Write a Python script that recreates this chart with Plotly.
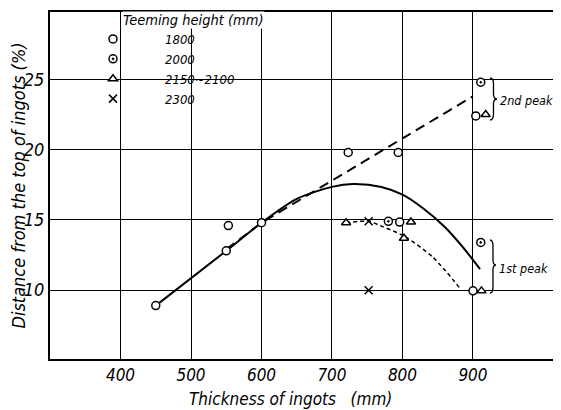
import plotly.graph_objects as go

# ---------------- data ----------------
x_1800 = [450, 550, 553, 600, 723, 794, 796, 900, 904]
y_1800 = [8.9, 12.8, 14.6, 14.8, 19.8, 19.8, 14.85, 9.95, 22.4]
x_2000 = [780, 911, 911]
y_2000 = [14.9, 13.4, 24.8]
x_2150 = [720, 802, 812, 912, 918]
y_2150 = [14.8, 13.7, 14.85, 9.95, 22.5]
x_2300 = [752, 752]
y_2300 = [14.9, 10.0]

# fitted curves
solid_x = [450, 550, 600, 650, 700, 730, 770, 800, 830, 860, 885, 910]
solid_y = [8.9, 12.8, 14.8, 16.5, 17.35, 17.55, 17.35, 16.8, 15.8, 14.5, 13.1, 11.5]
dashed_x = [550, 600, 900]
dashed_y = [12.9, 14.8, 23.8]
dotted_x = [720, 752, 768, 802, 843, 882]
dotted_y = [14.8, 14.9, 14.6, 13.85, 12.35, 10.1]

x_ticks = [400, 500, 600, 700, 800, 900]
y_ticks = [10, 15, 20, 25]
legend_names = ["1800", "2000", "2150~2100", "2300"]

FONT = "Liberation Sans Narrow, DejaVu Sans Condensed, Liberation Sans, sans-serif"

# the page body has an 8px margin: the figure starts at page (8, 8)
OFF = 8
W, H = 561 - OFF, 410 - OFF
# plot area in page pixels: x 50..559, y 12..359
PX0, PX1, PY0, PY1 = 50, 559, 12, 359
ML, MT = PX0 - OFF, PY0 - OFF
MR = (561 - OFF) - (PX1 - OFF)
MB = (410 - OFF) - (PY1 - OFF)
PW, PH = PX1 - PX0, PY1 - PY0


def px2paper(px, py):
    """page pixel -> paper coords"""
    return (px - PX0) / PW, 1 - (py - PY0) / PH


def brace(x0, top, bot, tipx, tipy):
    w = tipx - x0
    xm = x0 + w / 2
    pts = [
        ("M", [(x0, top)]),
        ("Q", [(xm, top), (xm, top + 6)]),
        ("L", [(xm, tipy - 5)]),
        ("Q", [(xm, tipy), (tipx, tipy)]),
        ("Q", [(xm, tipy), (xm, tipy + 5)]),
        ("L", [(xm, bot - 6)]),
        ("Q", [(xm, bot), (x0, bot)]),
    ]
    s = ""
    for cmd, coords in pts:
        s += cmd + " ".join("%.4f,%.4f" % px2paper(a, b) for a, b in coords) + " "
    return s.strip()


fig = go.Figure()

fig.add_trace(go.Scatter(x=solid_x, y=solid_y, mode="lines", showlegend=False,
                         line=dict(color="black", width=2, shape="spline", smoothing=0.8)))
fig.add_trace(go.Scatter(x=dashed_x, y=dashed_y, mode="lines", showlegend=False,
                         line=dict(color="black", width=2, dash="10px,6px")))
fig.add_trace(go.Scatter(x=dotted_x, y=dotted_y, mode="lines", showlegend=False,
                         line=dict(color="black", width=1.5, dash="4px,3px", shape="spline", smoothing=0.8)))

mk = dict(color="white", size=8, line=dict(color="black", width=1.5))
fig.add_trace(go.Scatter(x=x_1800, y=y_1800, mode="markers", name=legend_names[0],
                         marker=dict(mk, symbol="circle")))
fig.add_trace(go.Scatter(x=x_2000, y=y_2000, mode="markers", name=legend_names[1],
                         marker=dict(mk, symbol="circle-dot")))
fig.add_trace(go.Scatter(x=x_2150, y=y_2150, mode="markers", name=legend_names[2],
                         marker=dict(mk, symbol="triangle-up")))
fig.add_trace(go.Scatter(x=x_2300, y=y_2300, mode="markers", name=legend_names[3],
                         marker=dict(color="black", size=8, symbol="x-thin-open",
                                     line=dict(color="black", width=1.5))))

# white patch behind the legend (grid lines are broken there)
lx0, ly0 = px2paper(100, PY0)
lx1, ly1 = px2paper(255, 105)
shapes = [dict(type="rect", xref="paper", yref="paper", x0=lx0, x1=lx1, y0=ly1, y1=ly0,
               fillcolor="white", line=dict(width=0), layer="between")]
shapes.append(dict(type="path", xref="paper", yref="paper",
                   path=brace(490, 78, 120, 497, 99), line=dict(color="black", width=1.3)))
shapes.append(dict(type="path", xref="paper", yref="paper",
                   path=brace(490, 240, 293, 496, 265), line=dict(color="black", width=1.3)))

annotations = []
tx, ty = px2paper(122, 20)
annotations.append(dict(x=tx, y=ty, xref="paper", yref="paper", xanchor="left", yanchor="middle",
                        text="Teeming height (mm)", showarrow=False, bgcolor="white", borderpad=0,
                        font=dict(family=FONT, size=14.5, color="black", style="italic")))
ax, ay = px2paper(498, 100)
annotations.append(dict(x=ax, y=ay, xref="paper", yref="paper", xanchor="left", yanchor="middle",
                        text="2nd peak", showarrow=False,
                        font=dict(family=FONT, size=12.5, color="black", style="italic")))
ax, ay = px2paper(497, 268)
annotations.append(dict(x=ax, y=ay, xref="paper", yref="paper", xanchor="left", yanchor="middle",
                        text="1st peak", showarrow=False,
                        font=dict(family=FONT, size=12.5, color="black", style="italic")))
# x-axis title (placed as in the reference, left of the plot centre)
ax, ay = px2paper(290, 399)
annotations.append(dict(x=ax, y=ay, xref="paper", yref="paper", xanchor="center", yanchor="middle",
                        text="Thickness of ingots\u00a0\u00a0\u00a0(mm)", showarrow=False,
                        font=dict(family=FONT, size=17, color="black", style="italic")))

legx, legy = px2paper(61, 24)

fig.update_layout(
    width=W, height=H,
    margin=dict(l=ML, r=MR, t=MT, b=MB, autoexpand=False),
    paper_bgcolor="white", plot_bgcolor="white",
    font=dict(family=FONT, color="black", style="italic"),
    showlegend=True,
    legend=dict(x=legx, y=legy, xanchor="left", yanchor="top", bgcolor="rgba(0,0,0,0)",
                itemwidth=94, font=dict(family=FONT, size=13, color="black", style="italic"),
                tracegroupgap=0),
    shapes=shapes,
    annotations=annotations,
    xaxis=dict(range=[300, 1022], tickvals=x_ticks, ticktext=[str(v) for v in x_ticks],
               showgrid=True, gridcolor="black", gridwidth=1.3, zeroline=False,
               showline=True, linecolor="black", linewidth=2, mirror=True, ticks="",
               tickfont=dict(family=FONT, size=17, style="italic")),
    yaxis=dict(range=[5.1, 29.8], tickvals=y_ticks, ticktext=[str(v) for v in y_ticks],
               showgrid=True, gridcolor="black", gridwidth=1.3, zeroline=False,
               showline=True, linecolor="black", linewidth=2, ticks="",
               tickfont=dict(family=FONT, size=18, style="italic"),
               title=dict(text="Distance from the top of ingots (%)", standoff=0,
                          font=dict(family=FONT, size=18, style="italic"))),
)

fig.write_html("out.html")
